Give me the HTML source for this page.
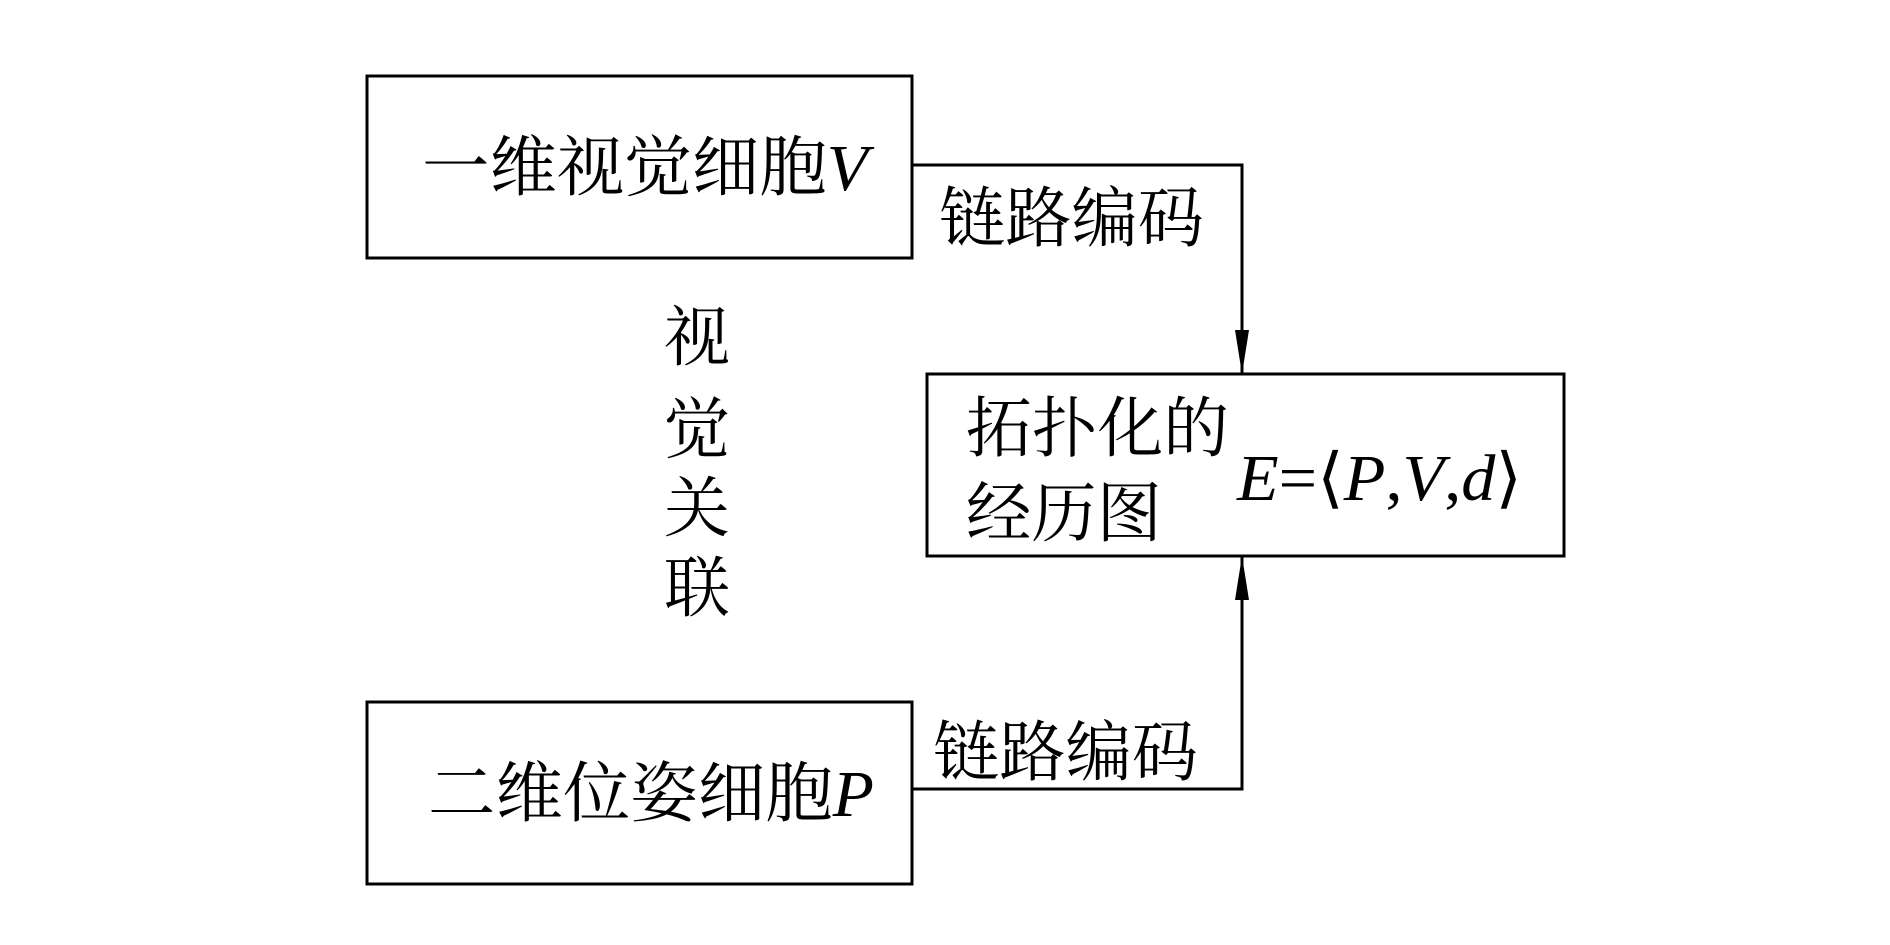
<!DOCTYPE html>
<html><head><meta charset="utf-8"><style>
html,body{margin:0;padding:0;background:#fff;}
svg{display:block;}
text{font-family:"Liberation Serif","Noto Serif CJK SC",serif;fill:#000;}
</style></head><body>
<svg width="1890" height="945" viewBox="0 0 1890 945" xmlns="http://www.w3.org/2000/svg">
<g fill="none" stroke="#000" stroke-width="3">
<rect x="367" y="76" width="545" height="182"/>
<rect x="367" y="702" width="545" height="182"/>
<rect x="927" y="374" width="637" height="182"/>
<polyline points="912,165 1242,165 1242,374"/>
<polyline points="912,789 1242,789 1242,556"/>
</g>
<path d="M1235,330 L1249,330 L1242,374 Z" fill="#000"/>
<path d="M1235,600 L1249,600 L1242,556 Z" fill="#000"/>
<g font-size="66">
<text x="422" y="190" textLength="446" lengthAdjust="spacingAndGlyphs">一维视觉细胞<tspan font-style="italic">V</tspan></text>
<text x="428" y="816" textLength="446" lengthAdjust="spacingAndGlyphs">二维位姿细胞<tspan font-style="italic">P</tspan></text>
<text x="939" y="241" textLength="265" lengthAdjust="spacingAndGlyphs">链路编码</text>
<text x="933" y="775" textLength="265" lengthAdjust="spacingAndGlyphs">链路编码</text>
<text x="966" y="451" textLength="263" lengthAdjust="spacingAndGlyphs">拓扑化的</text>
<text x="966" y="536" textLength="196" lengthAdjust="spacingAndGlyphs">经历图</text>
<text x="1237" y="500" textLength="285" lengthAdjust="spacingAndGlyphs" font-style="italic">E<tspan font-style="normal">=⟨</tspan>P<tspan font-style="normal">,</tspan>V<tspan font-style="normal">,</tspan>d<tspan font-style="normal">⟩</tspan></text>
<text x="664" y="360">视</text>
<text x="664" y="452">觉</text>
<text x="664" y="531">关</text>
<text x="664" y="611">联</text>
</g>
</svg>
</body></html>
